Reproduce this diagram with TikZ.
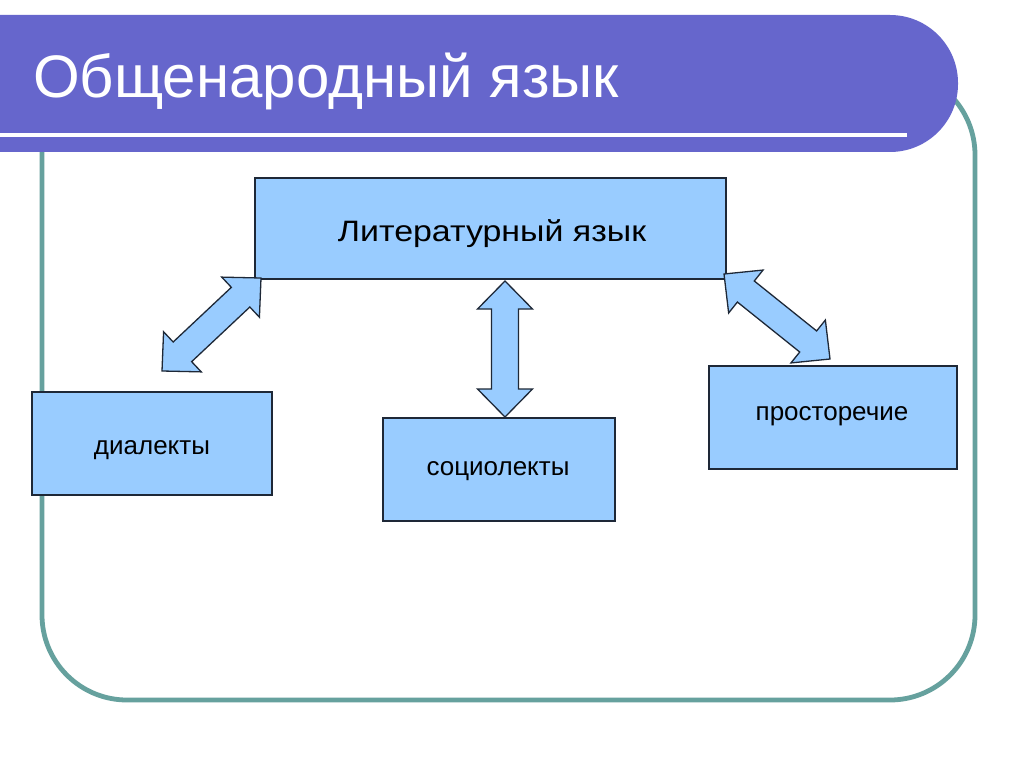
\documentclass[tikz,border=0pt]{standalone}
\usepackage{fontspec}
\setmainfont{Liberation Sans}
\usetikzlibrary{calc}
\definecolor{band}{RGB}{102,102,204}
\definecolor{frameteal}{RGB}{102,161,158}
\definecolor{boxfill}{RGB}{153,204,255}
\definecolor{boxdraw}{RGB}{30,40,55}
\tikzset{
  box/.style={draw=boxdraw, fill=boxfill, line width=1.3pt, inner sep=0pt},
  barrow/.style={draw=boxdraw, fill=boxfill, line width=1.3pt, line join=miter},
  boxtext/.style={font=\fontsize{26}{30}\selectfont, text=black, anchor=base, inner sep=0pt},
  bigtext/.style={font=\fontsize{29.5}{34}\selectfont, text=black, anchor=base, inner sep=0pt, xscale=1.15}
}
\def\ah{28pt}\def\aW{27.5pt}\def\aw{13.5pt}
\newcommand\blockarr[2]{%
 \draw[barrow] (#1)
  -- ($(#1)!\ah!(#2)!\aW!90:(#2)$)
  -- ($(#1)!\ah!(#2)!\aw!90:(#2)$)
  -- ($(#2)!\ah!(#1)!\aw!-90:(#1)$)
  -- ($(#2)!\ah!(#1)!\aW!-90:(#1)$)
  -- (#2)
  -- ($(#2)!\ah!(#1)!\aW!90:(#1)$)
  -- ($(#2)!\ah!(#1)!\aw!90:(#1)$)
  -- ($(#1)!\ah!(#2)!\aw!-90:(#2)$)
  -- ($(#1)!\ah!(#2)!\aW!-90:(#2)$)
  -- cycle;}
\begin{document}
\begin{tikzpicture}[x=1pt,y=-1pt]
\useasboundingbox[fill=white] (0,0) rectangle (1024,767);
% frame
\draw[frameteal, line width=4.8pt, rounded corners=85pt] (42,70) rectangle (975,700);
% band
\fill[band, rounded corners=68pt] (-80,15) rectangle (958,152);
\fill[band] (0,15) rectangle (100,152);
\draw[white, line width=4pt] (0,135) -- (907,135);
\node[anchor=base west, text=white, inner sep=0pt, font=\fontsize{60}{70}\selectfont] (title) at (33,98) {Общенародный язык};
% boxes
\node[box, minimum width=471pt, minimum height=101pt] (lit) at (490.5,228.5) {};
\node[bigtext] (littext) at (492,241.5) {Литературный язык};
\node[box, minimum width=240pt, minimum height=103pt] (dial) at (152,443.5) {};
\node[boxtext] (dialtext) at (152,454) {диалекты};
\node[box, minimum width=232pt, minimum height=103pt] (soc) at (499,469.5) {};
\node[boxtext] (soctext) at (498,475.5) {социолекты};
\node[box, minimum width=248pt, minimum height=103pt] (prost) at (833,417.5) {};
\node[boxtext] (prosttext) at (832,420.5) {просторечие};
% arrows
\coordinate (a1) at (261,278);
\coordinate (a2) at (162,371);
\coordinate (b1) at (505,281);
\coordinate (b2) at (505,417);
\coordinate (c1) at (724,274);
\coordinate (c2) at (830,359);
\blockarr{a1}{a2}
\blockarr{b1}{b2}
\blockarr{c1}{c2}
\end{tikzpicture}
\end{document}
